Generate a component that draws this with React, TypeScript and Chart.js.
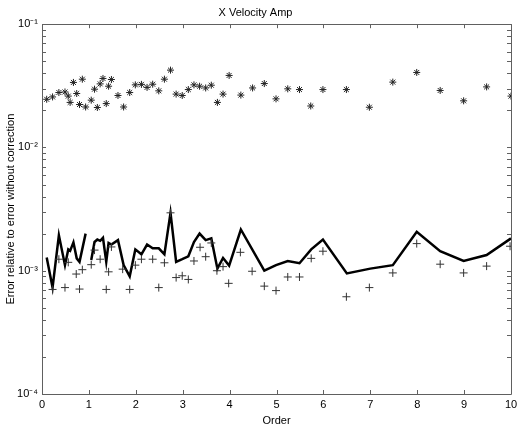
import React, { useEffect, useRef } from 'react';
import { Chart, registerables } from 'chart.js';

Chart.register(...registerables);

const TITLE = 'X Velocity Amp';
const X_LABEL = 'Order';
const Y_LABEL = 'Error relative to error without correction';

// asterisk series
const starX = [0.1, 0.225, 0.36, 0.49, 0.56, 0.6, 0.67, 0.74, 0.8, 0.86, 0.93, 1.05, 1.12, 1.18, 1.24, 1.3, 1.37, 1.42, 1.48, 1.62, 1.74, 1.87, 1.99, 2.12, 2.24, 2.36, 2.49, 2.61, 2.74, 2.86, 2.99, 3.12, 3.24, 3.36, 3.49, 3.61, 3.74, 3.86, 3.99, 4.24, 4.49, 4.74, 4.99, 5.24, 5.49, 5.73, 5.99, 6.49, 6.98, 7.48, 7.99, 8.49, 8.99, 9.48, 10.0];
const starY = [0.0246, 0.0257, 0.0279, 0.0282, 0.0261, 0.0232, 0.0337, 0.0274, 0.0223, 0.0358, 0.0213, 0.0242, 0.0297, 0.0211, 0.0328, 0.0363, 0.0227, 0.0314, 0.0356, 0.0264, 0.0213, 0.0279, 0.0322, 0.0325, 0.0307, 0.0326, 0.0288, 0.0358, 0.0424, 0.0271, 0.0264, 0.0295, 0.0322, 0.0314, 0.0304, 0.032, 0.0232, 0.0271, 0.0384, 0.0266, 0.0304, 0.033, 0.0248, 0.0299, 0.0295, 0.0217, 0.0295, 0.0295, 0.0212, 0.0339, 0.0406, 0.029, 0.0239, 0.031, 0.0261];

// thick line series (null = gap)
const lineX = [0.1, 0.225, 0.36, 0.49, 0.56, 0.6, 0.67, 0.74, 0.8, 0.93, 0.99, 1.05, 1.12, 1.18, 1.24, 1.3, 1.37, 1.42, 1.48, 1.62, 1.74, 1.87, 1.99, 2.12, 2.24, 2.36, 2.49, 2.61, 2.74, 2.86, 2.99, 3.12, 3.24, 3.36, 3.49, 3.61, 3.74, 3.86, 3.99, 4.24, 4.74, 4.99, 5.24, 5.49, 5.74, 5.99, 6.5, 7.0, 7.48, 7.99, 8.49, 8.99, 9.48, 10.0];
const lineY = [1.28e-3, 7.3e-4, 1.94e-3, 1.11e-3, 1.49e-3, 1.45e-3, 1.7e-3, 1.26e-3, 1.18e-3, 2.0e-3, null, 1.22e-3, 1.71e-3, 1.79e-3, 1.75e-3, 1.85e-3, 1.18e-3, 1.68e-3, 1.63e-3, 1.77e-3, 1.11e-3, 9.0e-4, 1.49e-3, 1.36e-3, 1.63e-3, 1.52e-3, 1.52e-3, 1.36e-3, 2.95e-3, 1.18e-3, 1.24e-3, 1.31e-3, 1.71e-3, 2.0e-3, 1.77e-3, 1.83e-3, 1.04e-3, 1.27e-3, 1.1e-3, 2.16e-3, 1.0e-3, 1.11e-3, 1.2e-3, 1.15e-3, 1.49e-3, 1.79e-3, 9.5e-4, 1.04e-3, 1.11e-3, 2.07e-3, 1.44e-3, 1.2e-3, 1.34e-3, 1.83e-3];

// plus series
const plusX = [0.225, 0.36, 0.49, 0.56, 0.73, 0.8, 0.86, 1.05, 1.12, 1.24, 1.37, 1.42, 1.48, 1.72, 1.87, 1.99, 2.12, 2.36, 2.49, 2.61, 2.74, 2.86, 2.99, 3.12, 3.24, 3.37, 3.49, 3.61, 3.73, 3.86, 3.98, 4.23, 4.48, 4.74, 4.99, 5.24, 5.49, 5.74, 5.99, 6.49, 6.98, 7.48, 7.99, 8.49, 8.99, 9.48, 9.98];
const plusY = [7.05e-4, 1.24e-3, 7.3e-4, 1.17e-3, 9.4e-4, 7.1e-4, 1.02e-3, 1.12e-3, 1.47e-3, 1.24e-3, 7.05e-4, 9.8e-4, 1.56e-3, 1.03e-3, 7.05e-4, 1.11e-3, 1.24e-3, 1.24e-3, 7.3e-4, 1.16e-3, 2.95e-3, 8.8e-4, 9.1e-4, 8.5e-4, 1.2e-3, 1.55e-3, 1.3e-3, 1.68e-3, 1.0e-3, 1.08e-3, 7.9e-4, 1.41e-3, 9.9e-4, 7.5e-4, 6.9e-4, 8.9e-4, 8.9e-4, 1.26e-3, 1.44e-3, 6.15e-4, 7.3e-4, 9.6e-4, 1.66e-3, 1.13e-3, 9.6e-4, 1.09e-3, 1.58e-3];

const X_MIN = 0;
const X_MAX = 10;
const Y_MIN = 1e-4;
const Y_MAX = 1e-1;

const SUP: Record<string, string> = { '-': '⁻', '0': '⁰', '1': '¹', '2': '²', '3': '³', '4': '⁴', '5': '⁵', '6': '⁶', '7': '⁷', '8': '⁸', '9': '⁹' };
const FONT = "'Liberation Sans', Arial, sans-serif";

const boxTicks = {
  id: 'boxTicks',
  afterDatasetsDraw(chart: any) {
    const { ctx, chartArea, scales } = chart;
    const { left, right, top, bottom } = chartArea;
    const xs = scales.x;
    const ys = scales.y;
    const L = 4;
    ctx.save();
    ctx.strokeStyle = '#606060';
    ctx.lineWidth = 1;
    ctx.beginPath();
    ctx.rect(Math.round(left) + 0.5, Math.round(top) + 0.5, Math.round(right - left), Math.round(bottom - top));
    ctx.stroke();
    ctx.beginPath();
    xs.ticks.forEach((t: any) => {
      const px = Math.round(xs.getPixelForValue(t.value)) + 0.5;
      ctx.moveTo(px, bottom);
      ctx.lineTo(px, bottom - L);
      ctx.moveTo(px, top);
      ctx.lineTo(px, top + L);
    });
    const e0 = Math.round(Math.log10(Y_MIN));
    const e1 = Math.round(Math.log10(Y_MAX));
    for (let e = e0; e <= e1; e++) {
      for (let m = 1; m <= 9; m++) {
        const v = m * Math.pow(10, e);
        if (v > Y_MAX * 1.0001) break;
        const py = Math.round(ys.getPixelForValue(v)) + 0.5;
        ctx.moveTo(left, py);
        ctx.lineTo(left + L, py);
        ctx.moveTo(right, py);
        ctx.lineTo(right - L, py);
      }
    }
    ctx.stroke();
    ctx.restore();
  },
};

export default function App() {
  const ref = useRef<HTMLCanvasElement | null>(null);
  useEffect(() => {
    if (!ref.current) return;
    const chart = new Chart(ref.current, {
      type: 'scatter',
      data: {
        datasets: [
          {
            label: 'plus',
            data: plusX.map((x, i) => ({ x, y: plusY[i] })),
            pointStyle: 'cross',
            pointRadius: 4,
            borderColor: '#333',
            backgroundColor: '#333',
            borderWidth: 1,
            showLine: false,
          },
          {
            label: 'line',
            data: lineX.map((x, i) => ({ x, y: lineY[i] as any })),
            showLine: true,
            spanGaps: false,
            pointRadius: 0,
            borderColor: '#000',
            backgroundColor: '#000',
            borderWidth: 2.5,
          },
          {
            label: 'star',
            data: starX.map((x, i) => ({ x, y: starY[i] })),
            pointStyle: 'star',
            pointRadius: 3.5,
            borderColor: '#222',
            backgroundColor: '#222',
            borderWidth: 1,
            showLine: false,
          },
        ],
      },
      options: {
        animation: false,
        responsive: false,
        layout: { padding: { left: 0, right: 6, top: 0, bottom: 0 } },
        plugins: {
          legend: { display: false },
          tooltip: { enabled: false },
          title: {
            display: true,
            text: TITLE,
            color: '#000',
            font: { family: FONT, size: 11, weight: 'normal' },
            padding: { top: 6, bottom: 5 },
          },
        },
        scales: {
          x: {
            type: 'linear',
            min: X_MIN,
            max: X_MAX,
            grid: { display: false, drawTicks: false },
            border: { display: false },
            ticks: { stepSize: 1, color: '#000', font: { family: FONT, size: 11 }, padding: 4, maxRotation: 0 },
            title: { display: true, text: X_LABEL, color: '#000', font: { family: FONT, size: 11 }, padding: { top: 0, bottom: 0 } },
            afterFit: (s: any) => { s.height = 34; s.paddingLeft = 0; s.paddingRight = 0; },
          },
          y: {
            type: 'logarithmic',
            min: Y_MIN,
            max: Y_MAX,
            grid: { display: false, drawTicks: false },
            border: { display: false },
            ticks: {
              autoSkip: false,
              color: '#000',
              font: { family: FONT, size: 11 },
              padding: 4,
              callback: (v: any) => {
                const lv = Math.log10(Number(v));
                if (Math.abs(lv - Math.round(lv)) > 1e-6) return '';
                const ex = String(Math.round(lv)).split('').map((c) => SUP[c] || c).join('');
                return '10' + ex;
              },
            },
            title: { display: true, text: Y_LABEL, color: '#000', font: { family: FONT, size: 11 }, padding: { top: 4, bottom: 0 } },
            afterFit: (s: any) => { s.width = 42; s.paddingTop = 0; s.paddingBottom = 0; },
          },
        },
      },
      plugins: [boxTicks],
    } as any);
    return () => chart.destroy();
  }, []);
  return (
    <div style={{ position: 'fixed', left: 0, top: 0, width: 517, height: 428, background: '#fff' }}>
      <canvas ref={ref} width={517} height={428} style={{ width: 517, height: 428, display: 'block' }} />
    </div>
  );
}
